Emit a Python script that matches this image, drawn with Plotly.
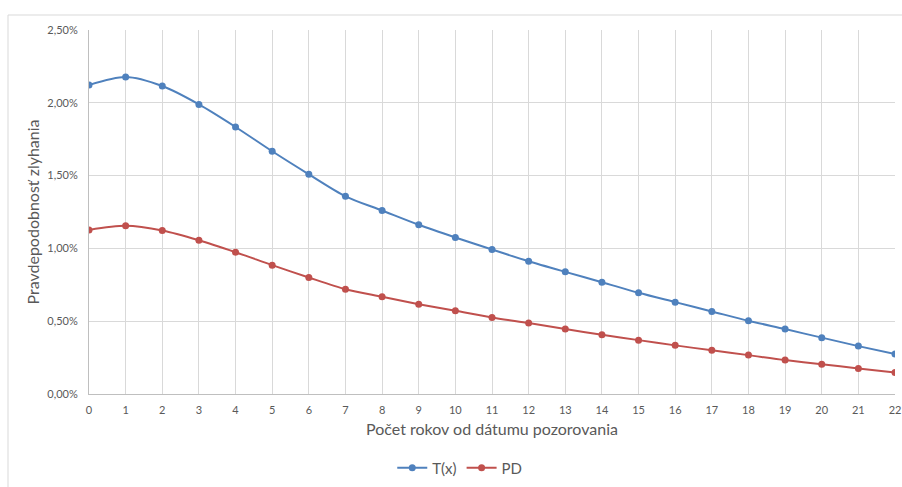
import plotly.graph_objects as go

# Years since observation date
years = list(range(0, 23))

# Default probability curves, in percent
tx_values = [2.122, 2.177, 2.115, 1.989, 1.834, 1.667, 1.509, 1.358, 1.260, 1.162,
             1.075, 0.992, 0.912, 0.839, 0.768, 0.695, 0.631, 0.567, 0.503, 0.446,
             0.387, 0.329, 0.274]
pd_values = [1.127, 1.155, 1.123, 1.056, 0.974, 0.885, 0.800, 0.720, 0.668, 0.617,
             0.572, 0.526, 0.487, 0.446, 0.407, 0.370, 0.334, 0.300, 0.267, 0.233,
             0.205, 0.175, 0.147]

y_ticks = [0, 0.5, 1.0, 1.5, 2.0, 2.5]
y_tick_labels = [f"{v:.2f}".replace(".", ",") + "%" for v in y_ticks]

FONT = "Lato, 'Liberation Sans', sans-serif"
BLUE = "#4F81BD"
RED = "#C0504D"

fig = go.Figure()
fig.add_trace(go.Scatter(
    x=years, y=tx_values, name="T(x)", mode="lines+markers",
    line=dict(color=BLUE, width=2, shape="spline", smoothing=0.8),
    marker=dict(color=BLUE, size=7),
))
fig.add_trace(go.Scatter(
    x=years, y=pd_values, name="PD", mode="lines+markers",
    line=dict(color=RED, width=2, shape="spline", smoothing=0.8),
    marker=dict(color=RED, size=7),
))

W, H = 902, 487
ml, mr, mt, mb = 89, 7, 30, 93
pw, ph = W - ml - mr, H - mt - mb

# Light chart-area frame
fig.add_shape(type="rect", xref="paper", yref="paper",
              x0=(8 - ml) / pw, x1=(W + 5 - ml) / pw,
              y0=-(H + 5 - mt - ph) / ph, y1=(ph + mt - 15) / ph,
              line=dict(color="#D9D9D9", width=1), fillcolor="rgba(0,0,0,0)", layer="below")

fig.update_layout(
    width=W, height=H,
    margin=dict(l=ml, r=mr, t=mt, b=mb, autoexpand=False),
    paper_bgcolor="white", plot_bgcolor="white",
    font=dict(family=FONT, color="#595959"),
    showlegend=True,
    legend=dict(orientation="h", x=0.46, xanchor="center", y=-0.203, yanchor="middle",
                font=dict(size=15, color="#595959"), itemwidth=30),
    xaxis=dict(
        range=[0, 22], tickmode="array", tickvals=years, ticktext=[str(v) for v in years],
        showgrid=True, gridcolor="#D9D9D9", gridwidth=1,
        showline=True, linecolor="#BFBFBF", linewidth=1,
        ticks="", tickfont=dict(size=11, color="#595959"), ticklabelstandoff=6,
        title=dict(text="Počet rokov od dátumu pozorovania", font=dict(size=16, color="#595959"), standoff=8),
        zeroline=False, automargin=True,
    ),
    yaxis=dict(
        range=[0, 2.5], tickmode="array", tickvals=y_ticks, ticktext=y_tick_labels,
        showgrid=True, gridcolor="#D9D9D9", gridwidth=1,
        showline=True, linecolor="#BFBFBF", linewidth=1,
        ticks="", tickfont=dict(size=11, color="#595959"), ticklabelstandoff=8,
        title=dict(text="Pravdepodobnosť zlyhania", font=dict(size=16, color="#595959"), standoff=3),
        zeroline=False, automargin=True,
    ),
)

fig.write_html("out.html")
